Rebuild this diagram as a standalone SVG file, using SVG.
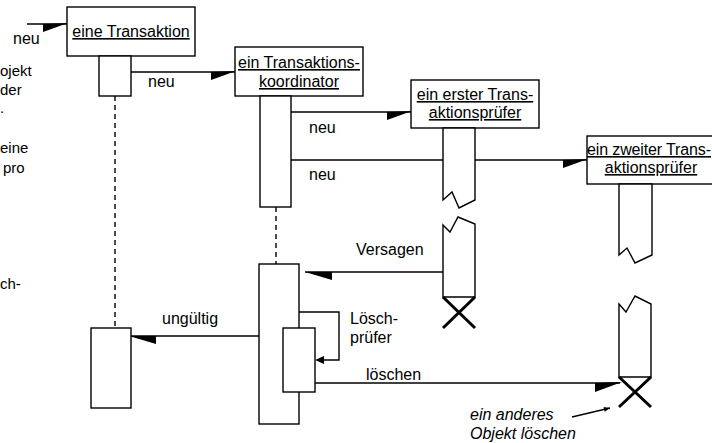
<svg xmlns="http://www.w3.org/2000/svg" width="712" height="443" viewBox="0 0 712 443">
<style>
text{font-family:"Liberation Sans",Arial,sans-serif;font-size:16px;fill:#000}
.u{text-decoration:underline}
.c{text-anchor:middle}
.it{font-style:italic}
.side{font-size:15px}
.box{fill:#fff;stroke:#000;stroke-width:1.4}
.ln{fill:none;stroke:#000;stroke-width:1.4}
.dash{fill:none;stroke:#000;stroke-width:1.4;stroke-dasharray:5,4}
.ah{fill:#000;stroke:none}
.x{stroke:#000;stroke-width:3;fill:none}
</style>
<defs>
<marker id="sm" viewBox="0 0 10 10" refX="10" refY="5" markerWidth="8" markerHeight="6" markerUnits="userSpaceOnUse" orient="auto">
<path d="M0,1 L10,5 L0,9 Z" fill="#000"/>
</marker>
</defs>
<rect width="712" height="443" fill="#fff"/>
<g id="side-text">
<text class="side" x="0" y="76">ojekt</text>
<text class="side" x="0" y="95">der</text>
<text class="side" x="0" y="113">.</text>
<text class="side" x="0" y="153">eine</text>
<text class="side" x="3" y="173">pro</text>
<text class="side" x="0" y="289">ch-</text>
</g>
<g id="connectors">
<line class="dash" x1="115" y1="96" x2="115" y2="328"/>
<line class="dash" x1="276" y1="207" x2="276" y2="264"/>
<line class="ln" x1="27" y1="24" x2="67" y2="24"/>
<polygon class="ah" points="43,24 68,23 43,32"/>
<line class="ln" x1="131" y1="72" x2="235" y2="72"/>
<polygon class="ah" points="211,72 236,71 211,80"/>
<line class="ln" x1="291" y1="112" x2="411" y2="112"/>
<polygon class="ah" points="387,112 412,111 387,120"/>
<line class="ln" x1="291" y1="160" x2="587" y2="160"/>
<polygon class="ah" points="563,160 588,159 563,168"/>
<line class="ln" x1="305" y1="272" x2="443" y2="272"/>
<polygon class="ah" points="305,272 332,272 332,280"/>
<line class="ln" x1="131" y1="336" x2="259" y2="336"/>
<polygon class="ah" points="129,336 156,336 156,344"/>
<path class="ln" d="M299,312 H339 V360 H318"/>
<polygon class="ah" points="315,360 324,356 324,364"/>
<line class="ln" x1="315" y1="383" x2="620" y2="383"/>
<polygon class="ah" points="595,383 622,382 595,392"/>
<line class="ln" x1="572" y1="417" x2="610" y2="408" marker-end="url(#sm)"/>
</g>
<g id="transaktion">
<rect class="box" x="67" y="7" width="128" height="49"/>
<text class="c u" x="131" y="37">eine Transaktion</text>
<rect class="box" x="99" y="56" width="32" height="40"/>
<rect class="box" x="91" y="328" width="40" height="80"/>
</g>
<g id="koordinator">
<rect class="box" x="235" y="47" width="128" height="49"/>
<text class="c u" x="299" y="68">ein Transaktions-</text>
<text class="c u" x="299" y="87">koordinator</text>
<rect class="box" x="260" y="96" width="31" height="111"/>
<rect class="box" x="259" y="264" width="40" height="160"/>
<rect class="box" x="283" y="328" width="32" height="64"/>
</g>
<g id="pruefer1">
<rect class="box" x="411" y="80" width="128" height="48"/>
<text class="c u" x="475" y="100">ein erster Trans-</text>
<text class="c u" x="475" y="118">aktionsprüfer</text>
<polygon class="box" points="443,128 443,200 452,192 459,208 475,200 475,128"/>
<polygon class="box" points="443,225 450,232 458,217 475,224 475,297 443,297"/>
<line class="x" x1="443" y1="297" x2="475" y2="328"/>
<line class="x" x1="475" y1="297" x2="443" y2="328"/>
</g>
<g id="pruefer2">
<rect class="box" x="587" y="136" width="130" height="48"/>
<text class="c u" x="649" y="155" textLength="124">ein zweiter Trans-</text>
<text class="c u" x="651" y="173">aktionsprüfer</text>
<polygon class="box" points="619,184 619,255 627,248 635,263 652,255 652,184"/>
<polygon class="box" points="619,304 626,312 635,296 651,304 651,377 619,377"/>
<line class="x" x1="619" y1="377" x2="651" y2="407"/>
<line class="x" x1="651" y1="377" x2="619" y2="407"/>
</g>
<g id="labels">
<text x="13" y="44">neu</text>
<text x="148" y="87">neu</text>
<text x="309" y="133">neu</text>
<text x="309" y="180">neu</text>
<text x="356" y="255">Versagen</text>
<text x="162" y="324">ungültig</text>
<text x="350" y="324">Lösch-</text>
<text x="350" y="343">prüfer</text>
<text x="366" y="380">löschen</text>
<text class="it" x="470" y="420">ein anderes</text>
<text class="it" x="470" y="439">Objekt löschen</text>
</g>
</svg>
